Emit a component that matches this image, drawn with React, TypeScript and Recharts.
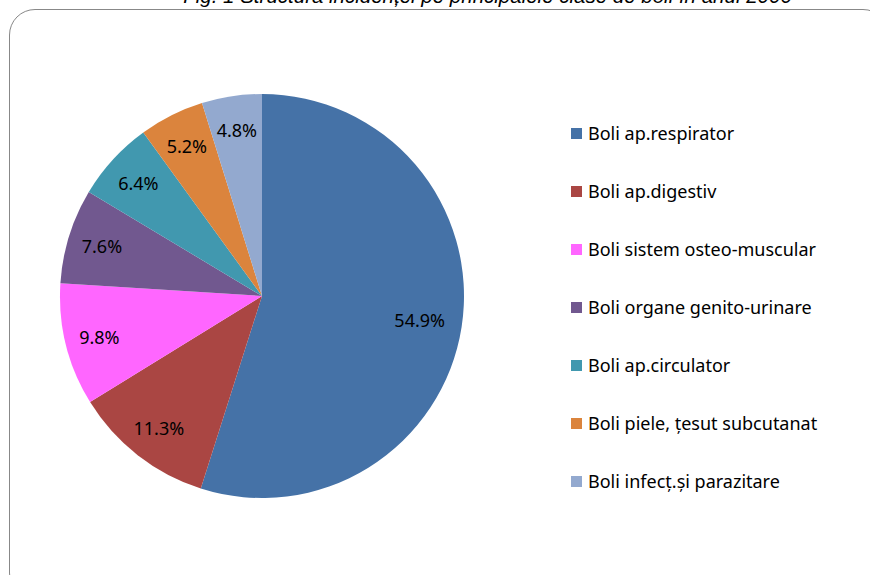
import React from "react";
import { PieChart, Pie, Cell } from "recharts";

const categories = [
  "Boli ap.respirator",
  "Boli ap.digestiv",
  "Boli sistem osteo-muscular",
  "Boli organe genito-urinare",
  "Boli ap.circulator",
  "Boli piele, țesut subcutanat",
  "Boli infecț.și parazitare",
];
const values = [54.9, 11.3, 9.8, 7.6, 6.4, 5.2, 4.8];
const colors = ["#4572A7", "#AA4643", "#FF66FF", "#71588F", "#4198AF", "#DB843D", "#93A9CF"];
const title = "Fig. 1 Structura incidenței pe principalele clase de boli în anul 2006";

const data = categories.map((name, i) => ({ name, value: values[i] }));
const FONT = "'Noto Sans', 'Open Sans', sans-serif";
const RAD = Math.PI / 180;

const renderLabel = (props: any) => {
  const { cx, cy, midAngle, outerRadius, value, index } = props;
  const r = outerRadius * (index === 0 ? 0.79 : 0.83);
  const x = cx + r * Math.cos(-midAngle * RAD);
  const y = cy + r * Math.sin(-midAngle * RAD);
  return (
    <text x={x} y={y} fill="#000" fontSize={18} fontFamily={FONT} textAnchor="middle" dominantBaseline="central">
      {value.toFixed(1) + "%"}
    </text>
  );
};

export default function App() {
  return (
    <div style={{ position: "absolute", left: 0, top: 0, width: 870, height: 575, overflow: "hidden", background: "#fff" }}>
      <div
        style={{
          position: "absolute",
          left: 0,
          top: -15,
          width: 870,
          textAlign: "center",
          paddingLeft: 105,
          boxSizing: "border-box",
          fontFamily: "'Liberation Sans', Arial, sans-serif",
          fontStyle: "italic",
          fontSize: 20.5,
          lineHeight: "22px",
          color: "#000",
          whiteSpace: "nowrap",
        }}
      >
        {title}
      </div>
      <div
        style={{
          position: "absolute",
          left: 8.5,
          top: 9,
          width: 880,
          height: 590,
          border: "1.5px solid #888",
          borderRadius: 26,
          boxSizing: "border-box",
        }}
      />
      <div style={{ position: "absolute", left: 0, top: 0 }}>
        <PieChart width={870} height={575}>
          <Pie
            data={data}
            dataKey="value"
            nameKey="name"
            cx={257}
            cy={291}
            outerRadius={202}
            startAngle={90}
            endAngle={-270}
            stroke="none"
            label={renderLabel}
            labelLine={false}
            isAnimationActive={false}
          >
            {data.map((d, i) => (
              <Cell key={d.name} fill={colors[i]} />
            ))}
          </Pie>
        </PieChart>
      </div>
      <div style={{ position: "absolute", left: 571, top: 104, fontFamily: FONT }}>
        {categories.map((c, i) => (
          <div key={c} style={{ display: "flex", alignItems: "center", height: 58 }}>
            <div style={{ width: 11, height: 11, background: colors[i], marginRight: 6 }} />
            <span style={{ fontSize: 18, color: "#000", whiteSpace: "nowrap" }}>{c}</span>
          </div>
        ))}
      </div>
    </div>
  );
}
